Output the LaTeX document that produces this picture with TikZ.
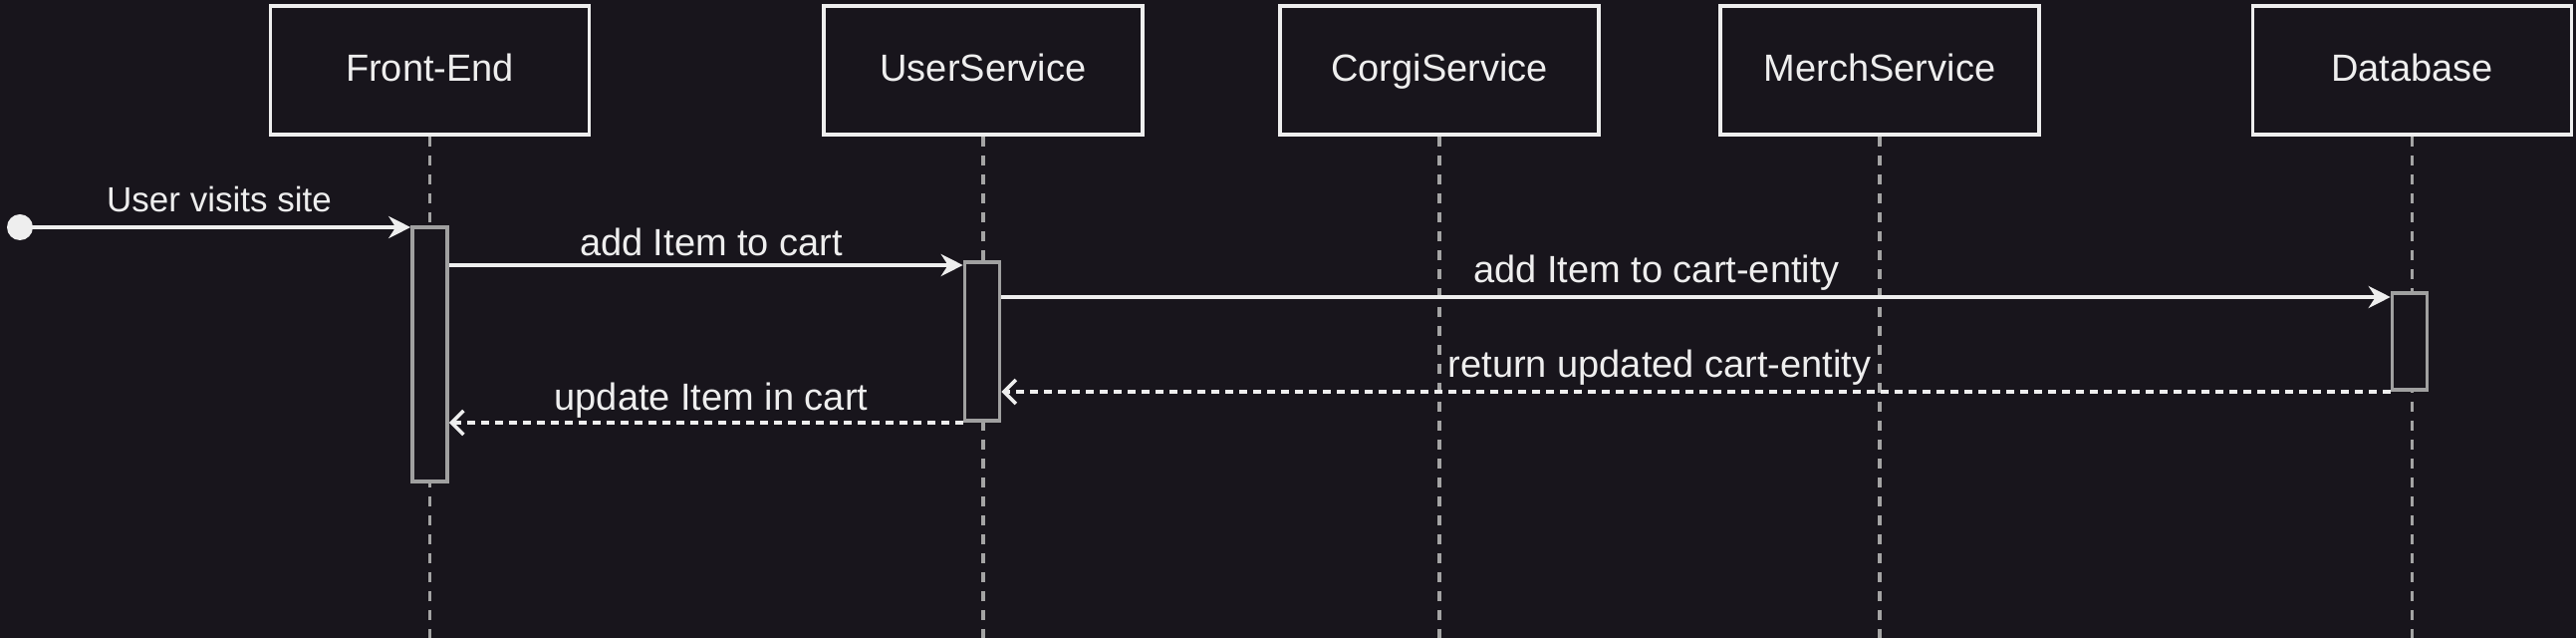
\documentclass[tikz,border=0pt]{standalone}
\usepackage{fontspec}
\setmainfont{Liberation Sans}
\usetikzlibrary{arrows.meta}
\definecolor{bg}{HTML}{18151C}
\definecolor{fg}{HTML}{EEEEEE}
\definecolor{life}{HTML}{A4A4A4}
\definecolor{actc}{HTML}{A0A0A0}
\begin{document}
\begin{tikzpicture}[x=0.5pt,y=-0.5pt,
  actor/.style={draw=fg, line width=1.8pt, fill=bg, minimum width=160pt, minimum height=64.5pt, inner sep=0pt, text=fg, font=\fontsize{19}{22}\selectfont, text height=15pt, text depth=3.5pt},
  lifeline/.style={draw=life, line width=1.7pt, dash pattern=on 5pt off 4.5pt},
  actbox/.style={draw=actc, line width=1.8pt, fill=bg, minimum width=17.5pt, inner sep=0pt},
  msg/.style={draw=fg, line width=1.8pt, -{Stealth[length=11pt,width=11pt,inset=3.5pt]}},
  ret/.style={draw=fg, line width=1.8pt, dash pattern=on 4pt off 3pt, -{Straight Barb[length=6pt,width=12pt]}},
  lbl/.style={text=fg, font=\fontsize{19}{22}\selectfont, inner sep=0pt},
  dotstyle/.style={circle, fill=fg, minimum size=13pt, inner sep=0pt},
]
\fill[bg] (0,0) rectangle (2586,640);
\useasboundingbox (0,0) rectangle (2586,640);

% actors
\node[actor] (fe) at (431.5,70.5) {Front-End};
\node[actor] (us) at (987,70.5) {UserService};
\node[actor] (cs) at (1445,70.5) {CorgiService};
\node[actor] (ms) at (1887,70.5) {MerchService};
\node[actor] (db) at (2421.5,70.5) {Database};

% lifeline ends
\coordinate (feend) at (431.5,640);
\coordinate (usend) at (987,640);
\coordinate (csend) at (1445,640);
\coordinate (msend) at (1887,640);
\coordinate (dbend) at (2421.5,640);
\draw[lifeline] (fe.south) -- (feend);
\draw[lifeline] (us.south) -- (usend);
\draw[lifeline] (cs.south) -- (csend);
\draw[lifeline] (ms.south) -- (msend);
\draw[lifeline] (db.south) -- (dbend);

% activations
\node[actbox, minimum height=127.5pt] (feact) at (431.5,355.5) {};
\node[actbox, minimum height=79.5pt] (usact) at (986,342.5) {};
\node[actbox, minimum height=48.5pt] (dbact) at (2419,342.5) {};

% start dot
\node[dotstyle] (start) at (20,228) {};

% message rows
\coordinate (m2) at (0,266);
\coordinate (m3) at (0,298);
\coordinate (m4) at (0,393);
\coordinate (m5) at (0,424);

\draw[msg] (start.center) -- (feact.west |- start.center);
\node[lbl, font=\fontsize{17.5}{20}\selectfont] (l1) at (220,200) {User visits site};

\draw[msg] (feact.east |- m2) -- (usact.west |- m2);
\node[lbl] (l2) at (714,243) {add Item to cart};

\draw[msg] (usact.east |- m3) -- (dbact.west |- m3);
\node[lbl] (l3) at (1663,274) {add Item to cart-entity};

\draw[ret] (dbact.west |- m4) -- (usact.east |- m4);
\node[lbl] (l4) at (1666,369) {return updated cart-entity};

\draw[ret] (usact.west |- m5) -- (feact.east |- m5);
\node[lbl] (l5) at (714,402) {update Item in cart};
\end{tikzpicture}
\end{document}
